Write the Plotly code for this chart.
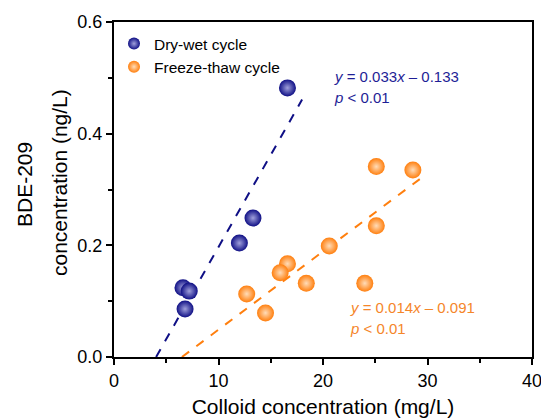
import plotly.graph_objects as go

# Data
dw_x = [16.6, 13.3, 12.0, 6.6, 7.2, 6.8]
dw_y = [0.482, 0.249, 0.204, 0.124, 0.118, 0.086]
ft_x = [25.1, 28.6, 25.1, 20.6, 16.6, 15.9, 18.4, 24.0, 12.7, 14.5]
ft_y = [0.341, 0.335, 0.235, 0.199, 0.167, 0.151, 0.132, 0.132, 0.113, 0.079]

# Fitted lines: slope, intercept, x span of the drawn line
dw_fit = (0.033, -0.133)
dw_fit_x = [4.03, 18.0]
ft_fit = (0.014, -0.091)
ft_fit_x = [6.5, 29.6]

NAVY = "#0f0f85"
ORANGE = "#ff7f0e"
NAVY_TXT = "#1e1e96"
ORANGE_TXT = "#f5862a"
FONT = "Liberation Sans, Arial"

fig = go.Figure()

fig.add_trace(go.Scatter(
    x=dw_fit_x, y=[dw_fit[0] * v + dw_fit[1] for v in dw_fit_x],
    mode="lines", line=dict(color=NAVY, width=2, dash="dash"),
    showlegend=False, hoverinfo="skip"))
fig.add_trace(go.Scatter(
    x=ft_fit_x, y=[ft_fit[0] * v + ft_fit[1] for v in ft_fit_x],
    mode="lines", line=dict(color=ORANGE, width=2, dash="dash"),
    showlegend=False, hoverinfo="skip"))

fig.add_trace(go.Scatter(
    x=dw_x, y=dw_y, mode="markers", name="Dry-wet cycle",
    marker=dict(size=17, color=NAVY, line=dict(width=0),
                gradient=dict(type="radial", color="#a0a0dc"))))
fig.add_trace(go.Scatter(
    x=ft_x, y=ft_y, mode="markers", name="Freeze-thaw cycle",
    marker=dict(size=17, color=ORANGE, line=dict(width=0),
                gradient=dict(type="radial", color="#ffdcb8"))))


def ann(px, py, text, color, size=15, angle=0, xanchor="left"):
    fig.add_annotation(
        x=(px - 114) / 418, y=(357 - py) / 335, xref="paper", yref="paper",
        text=text, showarrow=False, xanchor=xanchor, yanchor="middle",
        textangle=angle, font=dict(family=FONT, size=size, color=color))


ann(332, 76, "<i>y</i> = 0.033<i>x</i> – 0.133", NAVY_TXT)
ann(332, 97, "<i>p</i> < 0.01", NAVY_TXT)
ann(348, 307, "<i>y</i> = 0.014<i>x</i> – 0.091", ORANGE_TXT)
ann(348, 328, "<i>p</i> < 0.01", ORANGE_TXT)

# y-axis title (two lines, wider line spacing than plotly's default)
ann(24, 185, "BDE-209", "black", size=21, angle=-90, xanchor="center")
ann(59, 183, "concentration (ng/L)", "black", size=21, angle=-90, xanchor="center")

axis_common = dict(
    showgrid=False, zeroline=False, showline=True, linecolor="black",
    linewidth=2, mirror=True, ticks="outside", ticklen=6, tickwidth=1.5,
    tickcolor="black", tickfont=dict(family=FONT, size=18, color="black"),
    automargin=False, ticklabeloverflow="allow",
)

fig.update_layout(
    width=541, height=420,
    margin=dict(l=114, r=9, t=22, b=63),
    plot_bgcolor="white", paper_bgcolor="white",
    font=dict(family=FONT, color="black"),
    xaxis=dict(range=[0, 40], dtick=10,
               minor=dict(dtick=5, ticks="outside", ticklen=4, tickwidth=1.5, tickcolor="black"),
               title=dict(text="Colloid concentration (mg/L)", standoff=10,
                          font=dict(size=21)),
               **axis_common),
    yaxis=dict(range=[0, 0.6], dtick=0.2, tickformat=".1f",
               minor=dict(dtick=0.1, ticks="outside", ticklen=4, tickwidth=1.5, tickcolor="black"),
               **axis_common),
    legend=dict(x=0.0, y=0.985, xanchor="left", yanchor="top",
                bgcolor="rgba(0,0,0,0)", font=dict(size=15.5),
                itemsizing="constant", tracegroupgap=0),
)

fig.write_html("out.html", config={"displayModeBar": False},
               post_script="document.body.style.margin='0';")
